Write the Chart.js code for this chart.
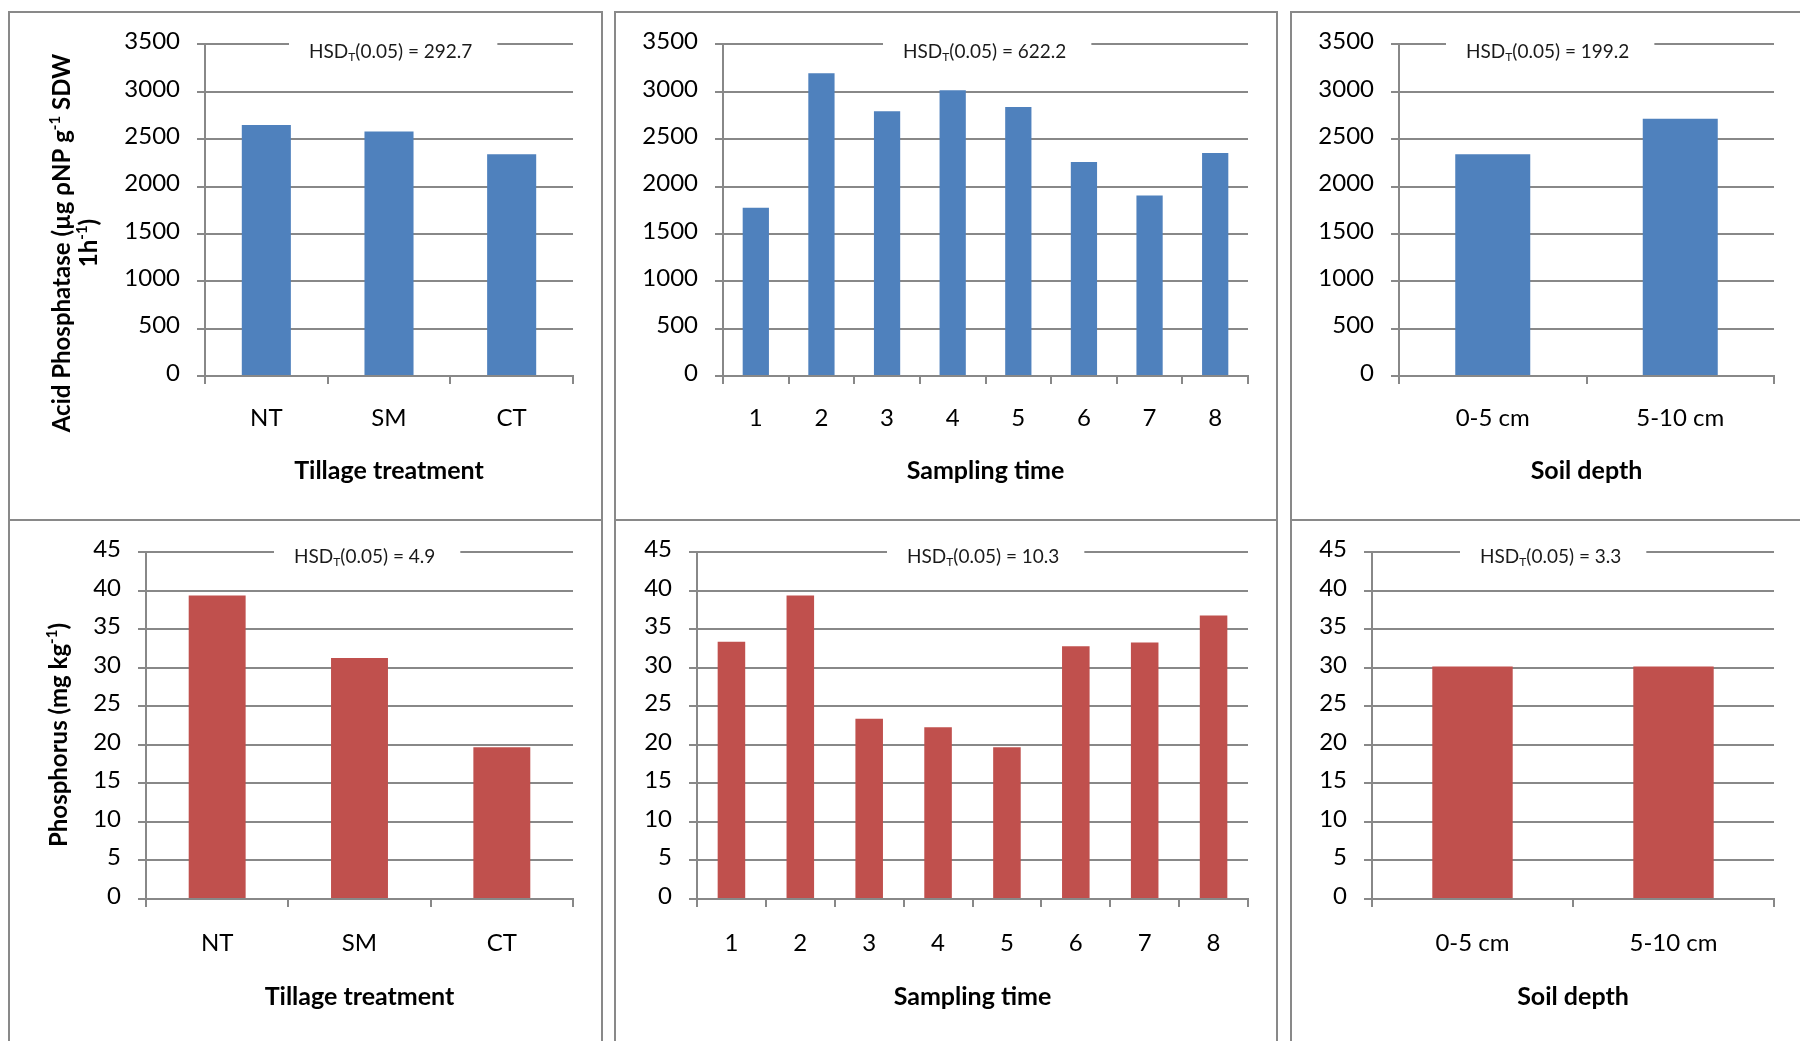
<!DOCTYPE html>
<html>
<head>
<meta charset="utf-8">
<script src="https://cdn.jsdelivr.net/npm/chart.js@4.4.0/dist/chart.umd.min.js"></script>
<style>
  body { margin: 0; background: #fff; width: 1800px; height: 1041px; overflow: hidden; position: relative; }
  .panel { position: absolute; box-sizing: border-box; border: 2px solid #898989; background: #fff; overflow: hidden; }
  .panel canvas { position: absolute; left: 0; top: 0; }
</style>
</head>
<body>
<script>
// categories
const tillageLabels  = ['NT', 'SM', 'CT'];
const samplingLabels = ['1', '2', '3', '4', '5', '6', '7', '8'];
const depthLabels    = ['0-5 cm', '5-10 cm'];

// acid phosphatase (µg ρNP g-1 SDW 1h-1)
const acidTillage  = [2650, 2580, 2340];
const acidSampling = [1775, 3195, 2795, 3015, 2840, 2260, 1905, 2355];
const acidDepth    = [2340, 2715];

// phosphorus (mg kg-1)
const phosTillage  = [39.4, 31.3, 19.7];
const phosSampling = [33.4, 39.4, 23.4, 22.3, 19.7, 32.8, 33.3, 36.8];
const phosDepth    = [30.2, 30.2];

// HSD values printed on each panel
const hsdAcid = ['292.7', '622.2', '199.2'];
const hsdPhos = ['4.9', '10.3', '3.3'];

const blue = '#4F81BD';
const red  = '#C0504D';
const gridCol = '#888888';
const FONT = 'Lato';

// draws the HSD note over the top gridline
const hsdPlugin = {
  id: 'hsd',
  afterDraw(chart, args, opts) {
    const { ctx, chartArea } = chart;
    const x = chartArea.left + opts.dx;
    const base = chartArea.top + opts.dy;
    const rest = '(0.05) = ' + opts.value;
    ctx.save();
    ctx.font = '19px ' + FONT;
    const w1 = ctx.measureText('HSD').width;
    const w3 = ctx.measureText(rest).width;
    ctx.font = '12px ' + FONT;
    const w2 = ctx.measureText('T').width;
    ctx.fillStyle = '#fff';
    ctx.fillRect(x - 20, chartArea.top - 3, w1 + w2 + w3 + 45, 6);
    ctx.fillStyle = '#1a1a1a';
    ctx.textBaseline = 'alphabetic';
    ctx.textAlign = 'left';
    ctx.font = '19px ' + FONT;
    ctx.fillText('HSD', x, base);
    ctx.font = '12px ' + FONT;
    ctx.fillText('T', x + w1, base + 3);
    ctx.font = '19px ' + FONT;
    ctx.fillText(rest, x + w1 + w2, base);
    ctx.restore();
  }
};

// rotated y title with superscripts
const yTitlePlugin = {
  id: 'yTitle',
  afterDraw(chart, args, opts) {
    if (!opts.lines) return;
    const ctx = chart.ctx;
    ctx.save();
    ctx.translate(opts.x, opts.y);
    ctx.rotate(-Math.PI / 2);
    ctx.fillStyle = '#000';
    ctx.textBaseline = 'alphabetic';
    ctx.textAlign = 'left';
    opts.lines.forEach((segs, i) => {
      let w = 0;
      segs.forEach(s => {
        ctx.font = 'bold ' + (s.sup ? 15 : 24) + 'px ' + FONT;
        w += ctx.measureText(s.t).width;
      });
      let px = -w / 2;
      segs.forEach(s => {
        ctx.font = 'bold ' + (s.sup ? 15 : 24) + 'px ' + FONT;
        ctx.fillText(s.t, px, i * opts.gap + (s.sup ? -10 : 0));
        px += ctx.measureText(s.t).width;
      });
    });
    ctx.restore();
  }
};

const panels = [
  { labels: tillageLabels, data: acidTillage, color: blue, yMax: 3500, step: 500, xTitle: 'Tillage treatment',
    hsd: hsdAcid[0], hsdDx: 104, hsdDy: 14,
    box: { left: 8, top: 11, w: 595, h: 510 }, plot: { l: 205, t: 41, r: 573, b: 376 },
    yTitle: { x: 70, y: 243, gap: 27, lines: [
      [{ t: 'Acid Phosphatase (µg ρNP g' }, { t: '-1', sup: true }, { t: ' SDW' }],
      [{ t: '1h' }, { t: '-1', sup: true }, { t: ')' }]
    ] } },
  { labels: samplingLabels, data: acidSampling, color: blue, yMax: 3500, step: 500, xTitle: 'Sampling time',
    hsd: hsdAcid[1], hsdDx: 180, hsdDy: 14,
    box: { left: 614, top: 11, w: 664, h: 510 }, plot: { l: 723, t: 41, r: 1248, b: 376 } },
  { labels: depthLabels, data: acidDepth, color: blue, yMax: 3500, step: 500, xTitle: 'Soil depth',
    hsd: hsdAcid[2], hsdDx: 67, hsdDy: 14,
    box: { left: 1290, top: 11, w: 520, h: 510 }, plot: { l: 1399, t: 41, r: 1774, b: 376 } },
  { labels: tillageLabels, data: phosTillage, color: red, yMax: 45, step: 5, xTitle: 'Tillage treatment',
    hsd: hsdPhos[0], hsdDx: 148, hsdDy: 11,
    box: { left: 8, top: 519, w: 595, h: 540 }, plot: { l: 146, t: 548, r: 573, b: 899 },
    yTitle: { x: 67, y: 735, gap: 27, lines: [
      [{ t: 'Phosphorus (mg kg' }, { t: '-1', sup: true }, { t: ')' }]
    ] } },
  { labels: samplingLabels, data: phosSampling, color: red, yMax: 45, step: 5, xTitle: 'Sampling time',
    hsd: hsdPhos[1], hsdDx: 210, hsdDy: 11,
    box: { left: 614, top: 519, w: 664, h: 540 }, plot: { l: 697, t: 548, r: 1248, b: 899 } },
  { labels: depthLabels, data: phosDepth, color: red, yMax: 45, step: 5, xTitle: 'Soil depth',
    hsd: hsdPhos[2], hsdDx: 108, hsdDy: 11,
    box: { left: 1290, top: 519, w: 520, h: 540 }, plot: { l: 1372, t: 548, r: 1774, b: 899 } }
];

panels.forEach(p => {
  const div = document.createElement('div');
  div.className = 'panel';
  Object.assign(div.style, { left: p.box.left + 'px', top: p.box.top + 'px', width: p.box.w + 'px', height: p.box.h + 'px' });
  const cx = p.box.left + 2, cy = p.box.top + 2;
  const cw = p.box.w - 4, ch = Math.min(p.box.h - 4, 1041 - cy);
  const cv = document.createElement('canvas');
  cv.width = cw; cv.height = ch;
  div.appendChild(cv);
  document.body.appendChild(div);

  const yW = p.plot.l - cx;
  const xH = cy + ch - p.plot.b;
  const tickFont = { family: FONT, size: 24 };
  const yt = p.yTitle ? { x: p.yTitle.x - cx, y: p.yTitle.y - cy, gap: p.yTitle.gap, lines: p.yTitle.lines } : {};
  const big = p.yMax > 100;

  new Chart(cv, {
    type: 'bar',
    data: {
      labels: p.labels,
      datasets: [{ data: p.data, backgroundColor: p.color, categoryPercentage: 1, barPercentage: 0.4 }]
    },
    options: {
      responsive: false,
      animation: false,
      layout: { padding: { top: p.plot.t - cy, right: cx + cw - p.plot.r, left: 0, bottom: 0 } },
      plugins: {
        legend: { display: false },
        tooltip: { enabled: false },
        hsd: { value: p.hsd, dx: p.hsdDx, dy: p.hsdDy },
        yTitle: yt
      },
      scales: {
        x: {
          offset: true,
          grid: { offset: true, drawOnChartArea: false, tickLength: 8, color: gridCol, lineWidth: 2 },
          border: { color: gridCol, width: 2 },
          ticks: { color: '#000', font: tickFont, padding: big ? 20 : 22, maxRotation: 0, autoSkip: false },
          title: { display: true, text: p.xTitle, color: '#000', font: { family: FONT, size: 25, weight: 'bold' },
                   padding: big ? 33 : 29 },
          afterFit: s => { s.height = xH; }
        },
        y: {
          min: 0, max: p.yMax,
          grid: { color: gridCol, lineWidth: 2, tickLength: 8 },
          border: { color: gridCol, width: 2 },
          ticks: { stepSize: p.step, color: '#000', font: tickFont, padding: 17, labelOffset: -3,
                   callback: v => String(v) },
          afterFit: s => { s.width = yW; }
        }
      }
    },
    plugins: [hsdPlugin, yTitlePlugin]
  });
});
</script>
</body>
</html>
